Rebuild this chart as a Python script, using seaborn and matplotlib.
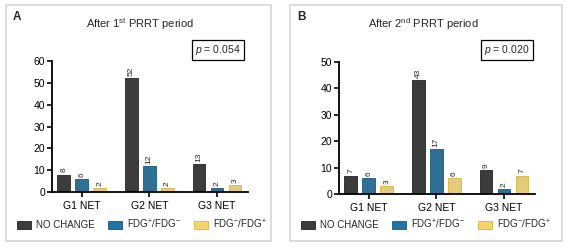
import matplotlib
matplotlib.use("Agg")
import matplotlib.pyplot as plt
import seaborn as sns
import pandas as pd
from matplotlib.patches import Rectangle, Patch

# ---------------- data ----------------
groups = ["G1 NET", "G2 NET", "G3 NET"]
responses = ["NO CHANGE", "FDG$^{+}$/FDG$^{-}$", "FDG$^{-}$/FDG$^{+}$"]

no_change_1 = [8, 52, 13]
pos_neg_1 = [6, 12, 2]
neg_pos_1 = [2, 2, 3]

no_change_2 = [7, 43, 9]
pos_neg_2 = [6, 17, 2]
neg_pos_2 = [3, 6, 7]

titles = ["After 1$^{\\mathrm{st}}$ PRRT period", "After 2$^{\\mathrm{nd}}$ PRRT period"]
panel_labels = ["A", "B"]
p_values = ["0.054", "0.020"]
y_max = [60, 50]

colors = ["#3c3c3c", "#1f74a5", "#f6d46a"]
edges = ["#222222", "#175a80", "#d9b640"]


def long_df(a, b, c):
    rows = []
    for resp, vals in zip(responses, [a, b, c]):
        for g, v in zip(groups, vals):
            rows.append({"group": g, "response": resp, "count": v})
    return pd.DataFrame(rows)


data = [long_df(no_change_1, pos_neg_1, neg_pos_1),
        long_df(no_change_2, pos_neg_2, neg_pos_2)]

# ---------------- style ----------------
sns.set_style("white")
plt.rcParams["font.family"] = ["Liberation Sans", "DejaVu Sans"]
plt.rcParams["mathtext.fontset"] = "custom"
plt.rcParams["mathtext.rm"] = "Liberation Sans"
plt.rcParams["mathtext.it"] = "Liberation Sans:italic"
plt.rcParams["mathtext.bf"] = "Liberation Sans:bold"

fig = plt.figure(figsize=(5.66, 2.49), dpi=100)
W, H = 566, 249

def fx(px):
    return px / W

def fy(py):
    return 1 - py / H

boxes = [(6, 5, 271, 241), (290, 5, 562, 241)]
axes_pos = [(52, 61, 248, 192), (339, 62, 535, 194)]
title_x = [140, 423]
p_x = [218, 507]
legend_x = [17, 301]

for i in range(2):
    bx0, by0, bx1, by1 = boxes[i]
    fig.patches.append(Rectangle((fx(bx0), fy(by1)), fx(bx1) - fx(bx0), fy(by0) - fy(by1),
                                 transform=fig.transFigure, fill=False,
                                 edgecolor="#d6d6d6", linewidth=1.2))

    x0, y0, x1, y1 = axes_pos[i]
    ax = fig.add_axes([fx(x0), fy(y1), fx(x1) - fx(x0), fy(y0) - fy(y1)])
    sns.barplot(data=data[i], x="group", y="count", hue="response",
                palette=colors, width=0.8, gap=0.3, ax=ax, legend=True)

    for cont, ec in zip(ax.containers, edges):
        for bar in cont:
            bar.set_edgecolor(ec)
            bar.set_linewidth(0.6)
        ax.bar_label(cont, rotation=90, padding=1.5, fontsize=6)

    ax.set_ylim(0, y_max[i])
    ax.set_xlim(-0.44, 2.46)
    ax.set_yticks(range(0, y_max[i] + 1, 10))
    ax.set_xlabel("")
    ax.set_ylabel("")
    for side in ["top", "right"]:
        ax.spines[side].set_visible(False)
    for side in ["left", "bottom"]:
        ax.spines[side].set_linewidth(1.3)
        ax.spines[side].set_color("black")
    ax.tick_params(axis="both", which="both", direction="out", length=3.5, width=1.2,
                   labelsize=7.5, colors="black", pad=1.5, left=True, bottom=True)
    ax.tick_params(axis="x", pad=3, labelsize=7.5)

    handles = [Patch(facecolor=c, edgecolor=e, linewidth=0.6) for c, e in zip(colors, edges)]
    ax.get_legend().remove()
    fig.legend(handles, responses, loc="center left",
               bbox_to_anchor=(fx(legend_x[i]), fy(224)), ncol=3, frameon=False,
               fontsize=7, handlelength=1.45, handleheight=0.8, handletextpad=0.5,
               columnspacing=1.35, borderpad=0, borderaxespad=0)

    fig.text(fx(title_x[i]), fy(24), titles[i], ha="center", va="center", fontsize=8)
    fig.text(fx(boxes[i][0] + 7), fy(17), panel_labels[i], ha="left", va="center",
             fontsize=8.5, fontweight="bold")
    fig.text(fx(p_x[i]), fy(50), "$p$ = " + p_values[i], ha="center", va="center", fontsize=7.5,
             bbox=dict(boxstyle="square,pad=0.3", facecolor="white", edgecolor="black",
                       linewidth=0.9))

fig.savefig("out.png", dpi=100, facecolor="white")
